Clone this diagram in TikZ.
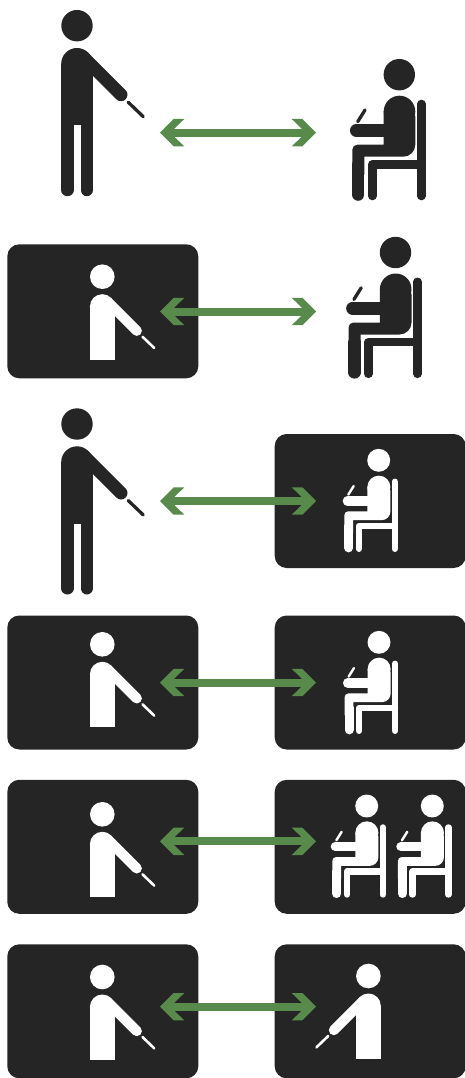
\documentclass[tikz,border=0pt]{standalone}
\usepackage{tikz}
\usetikzlibrary{arrows.meta}
\definecolor{ink}{RGB}{38,37,37}
\definecolor{leaf}{RGB}{88,139,75}
\pgfdeclarearrow{
  name=Chevron,
  setup code={\pgfarrowssettipend{0pt}\pgfarrowssetlineend{-14pt}\pgfarrowssetbackend{-24.3pt}\pgfarrowssetvisualbackend{-14.3pt}\pgfarrowshullpoint{0pt}{0pt}},
  drawing code={
    \pgfpathmoveto{\pgfpoint{0pt}{0pt}}
    \pgfpathlineto{\pgfpoint{-13.7pt}{13.7pt}}
    \pgfpathlineto{\pgfpoint{-24.3pt}{13.7pt}}
    \pgfpathlineto{\pgfpoint{-14.3pt}{4pt}}
    \pgfpathlineto{\pgfpoint{-14.3pt}{-4pt}}
    \pgfpathlineto{\pgfpoint{-24.3pt}{-13.7pt}}
    \pgfpathlineto{\pgfpoint{-13.7pt}{-13.7pt}}
    \pgfpathclose
    \pgfusepathqfill
  }
}
% upper part of the standing figure: #1 scale, #2 where the trunk stops
\newcommand{\figuretop}[2]{
  \fill (0,0) circle [radius=15.7*#1];
  \fill (0,38.1*#1) circle [radius=15.8*#1];
  \fill (-15.8*#1,38.1*#1) rectangle (15.8*#1,#2*#1);
  \draw[line width=#1*13pt, line cap=round] (6.9*#1,31.9*#1) -- (44*#1,69*#1);
  \draw[line width=#1*3.3pt, line cap=round] (51.3*#1,76.6*#1) -- (66.3*#1,91*#1);
}
\tikzset{
  pics/walker/.style={code={
    \figuretop{#1}{99.6}
    \draw[line width=#1*12.4pt, line cap=round] (-9.7*#1,90*#1) -- (-9.7*#1,164.3*#1);
    \draw[line width=#1*12.4pt, line cap=round] (9.7*#1,90*#1) -- (9.7*#1,164.3*#1);
  }},
  pics/trunk/.style={code={\figuretop{#1}{106}}},
  pics/sitter/.style={code={
    \fill (0,0) circle [radius=15.7*#1];
    \fill (0.2*#1,36.8*#1) circle [radius=15.8*#1];
    \fill[rounded corners=#1*5pt] (-15.6*#1,36.8*#1) -- (16*#1,36.8*#1) [rounded corners=#1*12pt] -- (16*#1,82*#1) [sharp corners] -- (-35*#1,82*#1) -- (-35*#1,100*#1) -- (-47*#1,100*#1) [rounded corners=#1*5pt] -- (-47*#1,70*#1) [sharp corners] -- (-15.6*#1,70*#1) -- cycle;
    \draw[line width=#1*12.7pt, line cap=round] (-43*#1,55.7*#1) -- (-10*#1,55.7*#1);
    \draw[line width=#1*12.2pt, line cap=round] (-41*#1,90*#1) -- (-41*#1,120*#1);
    \draw[line width=#1*8.6pt, line cap=round, line join=round] (-27.1*#1,121.3*#1) -- (-27.1*#1,89.6*#1) -- (22*#1,89.6*#1);
    \draw[line width=#1*8.6pt, line cap=round] (22*#1,29.3*#1) -- (22*#1,121.3*#1);
    \draw[line width=#1*3.3pt, line cap=round] (-34.3*#1,35.3*#1) -- (-41.6*#1,47*#1);
  }},
  panel/.style={fill=ink, rounded corners=12pt, minimum width=191pt, minimum height=134pt, inner sep=0pt, outer sep=0pt},
  twoway/.style={<->, line width=8pt, leaf}
}

\begin{document}
\begin{tikzpicture}[x=1pt, y=-1pt, >=Chevron]
\useasboundingbox (0,0) rectangle (464,1078);
% dark panels
\foreach \cx/\cy/\name in {102.8/311.3/panelb, 370.2/501/panelc, 102.8/682.5/paneld, 370.2/682.5/paneld2, 102.8/846.8/panele, 370.2/846.8/panele2, 102.8/1011.3/panelf, 370.2/1011.3/panelf2}
  \node[panel] (\name) at (\cx,\cy) {};
% figures
\pic[ink] at (77,25.7) {walker=1};
\pic[ink] at (399.3,74.7) {sitter=1};
\pic[white] at (102.3,276.7) {trunk=.784};
\pic[ink] at (395.5,252.5) {sitter=1};
\pic[ink] at (77,424) {walker=1};
\pic[white] at (378.7,460.3) {sitter=.73};
\pic[white] at (102.3,644.3) {trunk=.784};
\pic[white] at (379,642.3) {sitter=.73};
\pic[white] at (102.3,814.3) {trunk=.784};
\pic[white] at (366.7,806) {sitter=.73};
\pic[white] at (432.3,806) {sitter=.73};
\pic[white] at (102.3,977) {trunk=.784};
\pic[white, xscale=-1] at (368.4,976) {trunk=.784};
% arrows
\foreach \y/\name in {132.7/a, 311.5/b, 501/c, 682.5/d, 841.3/e, 1006.7/f} {
  \coordinate (left\name) at (160,\y);
  \coordinate (right\name) at (316,\y);
  \draw[twoway] (left\name) -- (right\name);
}
\end{tikzpicture}
\end{document}
